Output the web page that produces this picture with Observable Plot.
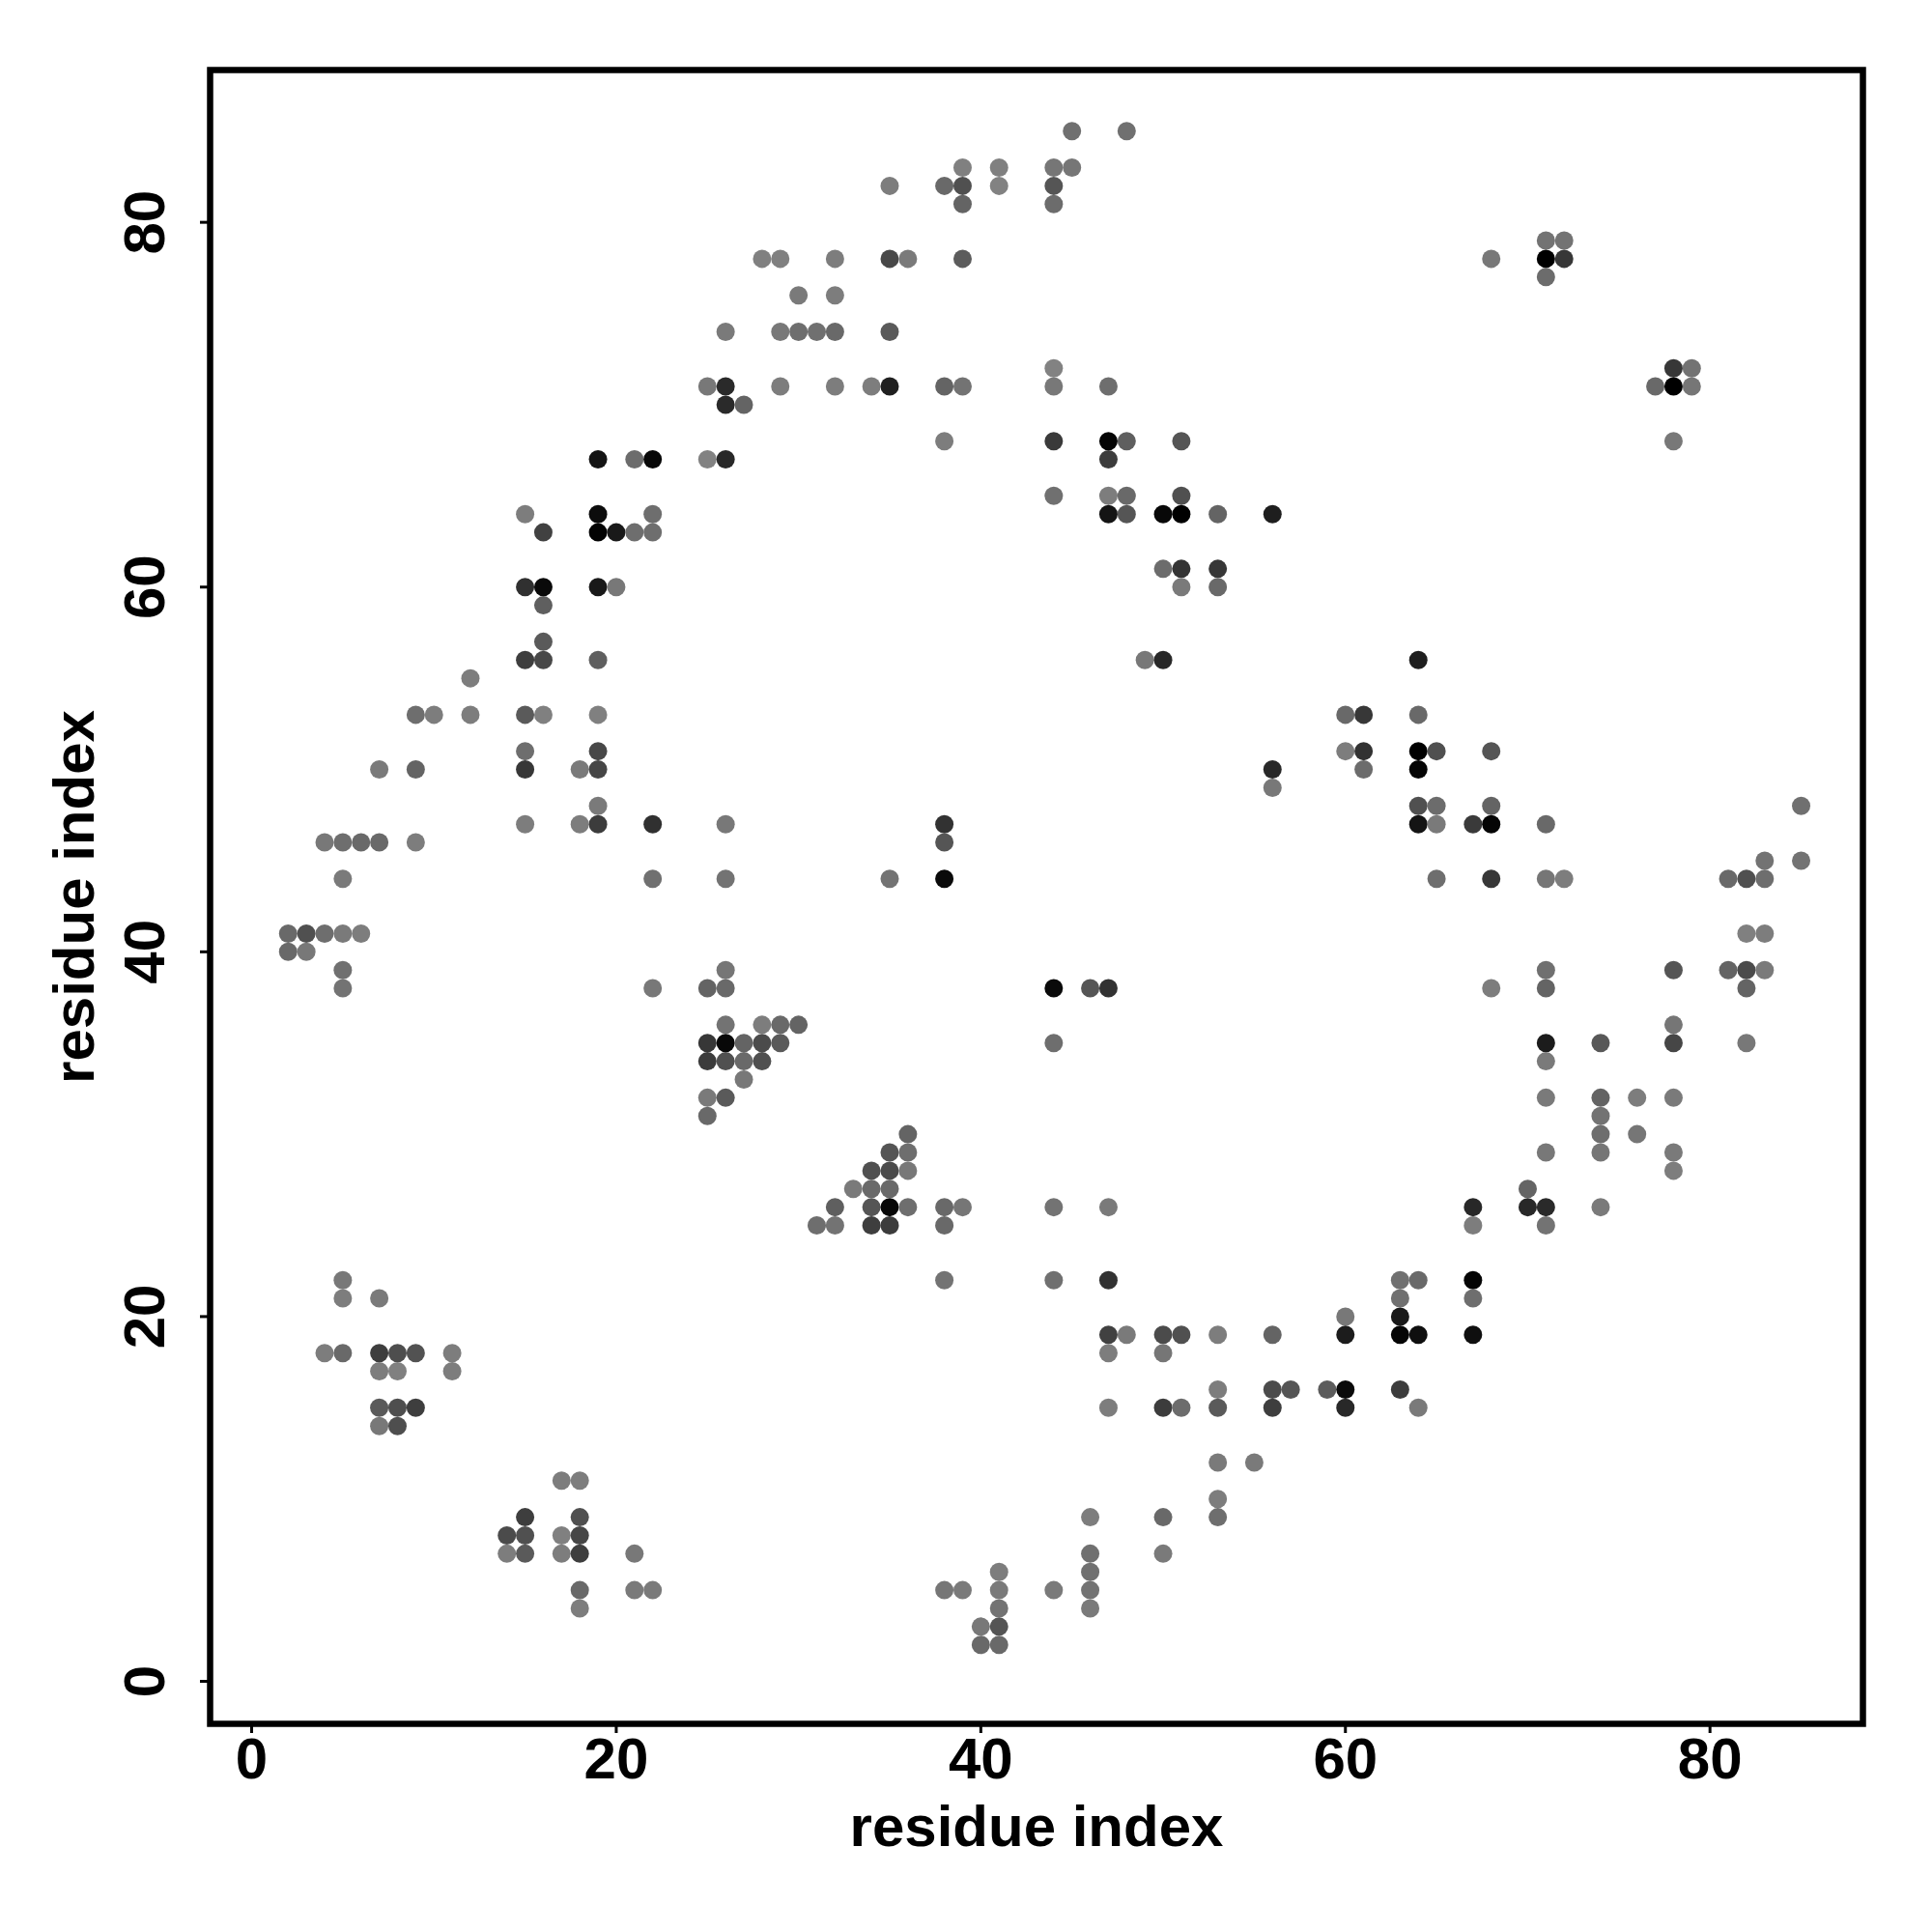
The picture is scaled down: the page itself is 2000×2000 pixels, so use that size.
<!DOCTYPE html>
<html>
<head>
<meta charset="utf-8">
<style>html,body{margin:0;padding:0;background:#fff}svg{display:block}</style>
<script src="https://cdn.jsdelivr.net/npm/d3@7"></script>
<script src="https://cdn.jsdelivr.net/npm/@observablehq/plot@0.6"></script>
</head>
<body>
<script>
const axisTicks = [0, 20, 40, 60, 80];
const axisTitle = "residue index";

// One entry per row of the contact map: the row's index, the column indices, the grey level of each dot.
const rowIndex = [85,83,82,81,79,78,77,76,74,72,71,70,68,67,65,64,63,61,60,59,57,56,55,53,51,50,49,48,47,46,45,44,41,40,39,38,36,35,34,33,32,31,30,29,28,27,26,25,22,21,20,19,18,17,16,15,14,12,11,10,9,8,7,6,5,4,3,2];
const rowColumns = [
  [45,48],
  [39,41,44,45],
  [35,38,39,41,44],
  [39,44],
  [71,72],
  [28,29,32,35,36,39,68,71,72],
  [71],
  [30,32],
  [26,29,30,31,32,35],
  [44,78,79],
  [25,26,29,32,34,35,38,39,44,47,77,78,79],
  [26,27],
  [38,44,47,48,51,78],
  [19,21,22,25,26,47],
  [44,47,48,51],
  [15,19,22,47,48,50,51,53,56],
  [16,19,20,21,22],
  [50,51,53],
  [15,16,19,20,51,53],
  [16],
  [16],
  [15,16,19,49,50,64],
  [12],
  [9,10,12,15,16,19,60,61,64],
  [15,19,60,61,64,65,68],
  [7,9,15,18,19,56,61,64],
  [56],
  [19,64,65,68,85],
  [15,18,19,22,26,38,64,65,67,68,71],
  [4,5,6,7,9,38],
  [83,85],
  [5,22,26,35,38,65,68,71,72,81,82,83],
  [2,3,4,5,6,82,83],
  [2,3],
  [5,26,71,78,81,82,83],
  [5,22,25,26,44,46,47,68,71,82],
  [26,28,29,30,78],
  [25,26,27,28,29,44,71,74,78,82],
  [25,26,27,28,71],
  [27],
  [25,26,71,74,76,78],
  [25,74],
  [36,74,76],
  [35,36,71,74,78],
  [34,35,36,78],
  [33,34,35,70],
  [32,34,35,36,38,39,44,47,67,70,71,74],
  [31,32,34,35,38,67,71],
  [5,38,44,47,63,64,67],
  [5,7,63,67],
  [60,63],
  [47,48,50,51,53,56,60,63,64,67],
  [4,5,7,8,9,11,47,50],
  [7,8,11],
  [53,56,57,59,60,63],
  [7,8,9,47,50,51,53,56,60,64],
  [7,8],
  [53,55],
  [17,18],
  [53],
  [15,18,46,50,53],
  [14,15,17,18],
  [14,15,17,18,21,46,50],
  [41,46],
  [18,21,22,38,39,41,44,46],
  [18,41,46],
  [40,41],
  [40,41]
];
const rowGreys = [
  [112,112],
  [128,128,118,118],
  [125,105,80,130,85],
  [100,108],
  [115,115],
  [128,128,125,72,122,92,120,0,55],
  [108],
  [122,125],
  [122,120,110,112,105,90],
  [130,55,115],
  [120,42,125,125,125,32,100,115,120,110,105,0,118],
  [42,100],
  [125,58,5,95,85,120],
  [20,108,8,130,40,60],
  [112,125,105,80],
  [125,12,110,20,85,8,0,100,30],
  [65,3,25,110,110],
  [108,52,55],
  [48,10,25,120,122,105],
  [95],
  [90],
  [62,72,95,120,40,30],
  [125],
  [110,125,125,90,128,128,105,55,105],
  [110,72,125,50,0,80,85],
  [122,100,55,122,70,40,108,5],
  [120],
  [122,80,108,100,112],
  [125,125,60,48,120,50,20,122,58,5,105],
  [120,110,105,105,125,85],
  [115,115],
  [122,112,115,115,10,110,55,118,125,105,80,110],
  [105,80,110,122,125,128,125],
  [105,120],
  [112,118,112,85,100,75,122],
  [115,120,100,105,10,85,50,125,100,100],
  [115,125,105,100,118],
  [55,8,100,75,90,110,28,88,70,120],
  [60,80,105,80,122],
  [120],
  [122,90,122,100,125,122],
  [105,115],
  [100,110,118],
  [85,110,120,118,122],
  [80,75,120,125],
  [122,105,105,100],
  [95,85,8,110,105,118,115,122,40,40,42,122],
  [110,115,62,60,105,125,115],
  [120,115,112,50,112,105,5],
  [125,122,112,110],
  [120,25],
  [65,122,75,80,125,100,28,5,15,15],
  [125,105,62,78,82,125,125,118],
  [125,128,125],
  [125,75,85,92,10,60],
  [90,78,62,125,60,108,90,62,40,122],
  [120,78],
  [122,122],
  [125,125],
  [125],
  [62,80,125,105,110],
  [75,80,128,70],
  [125,90,125,62,120,112,122],
  [125,112],
  [105,122,122,118,122,122,122,115],
  [125,115,122],
  [120,85],
  [105,105]
];

const contacts = rowIndex.flatMap((row, i) =>
  rowColumns[i].map((column, j) => ({
    column,
    row,
    fill: `rgb(${rowGreys[i][j]},${rowGreys[i][j]},${rowGreys[i][j]})`
  }))
);

const textStyle = {fontFamily: "'Liberation Sans', Arial, sans-serif", fontWeight: "bold", fontSize: 60, fill: "#000"};

const chart = Plot.plot({
  width: 2000,
  height: 2000,
  marginLeft: 217,
  marginRight: 72,
  marginTop: 72,
  marginBottom: 216,
  style: {background: "#fff", color: "#000"},
  x: {domain: [-2.28, 88.39]},
  y: {domain: [-2.33, 88.35]},
  color: {type: "identity"},
  marks: [
    Plot.dot(contacts, {x: "column", y: "row", r: 9.5, fill: "fill", stroke: "none"}),
    Plot.frame({stroke: "#000", strokeWidth: 6.5}),
    Plot.axisX({
      ticks: axisTicks, tickSize: 10, tickPadding: 4, strokeWidth: 3, stroke: "#000",
      label: axisTitle, labelAnchor: "center", labelArrow: "none", labelOffset: 126, ...textStyle
    }),
    Plot.axisY({
      ticks: axisTicks, tickSize: 10, tickPadding: 38, tickRotate: -90, strokeWidth: 3, stroke: "#000",
      label: axisTitle, labelAnchor: "center", labelArrow: "none", labelOffset: 163, ...textStyle
    })
  ]
});
document.body.appendChild(chart);
</script>
</body>
</html>
